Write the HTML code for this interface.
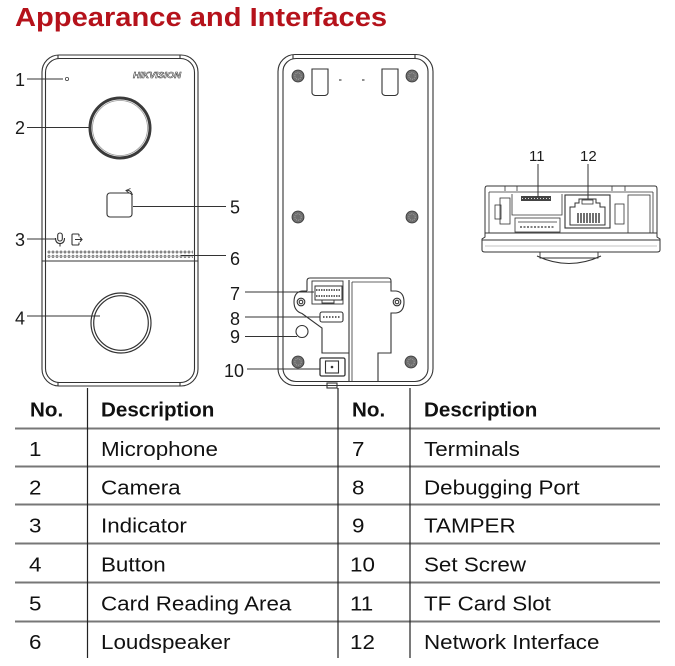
<!DOCTYPE html>
<html><head><meta charset="utf-8"><style>
html,body{margin:0;padding:0;background:#fff;}
svg{display:block;}
text{font-family:"Liberation Sans",Arial,sans-serif;}
</style></head><body>
<svg width="675" height="666" viewBox="0 0 675 666" xmlns="http://www.w3.org/2000/svg">
<defs>
<pattern id="dots" x="47" y="250" width="4" height="4.4" patternUnits="userSpaceOnUse"><circle cx="2" cy="2" r="1" fill="none" stroke="#555" stroke-width="0.8"/></pattern>
</defs>
<rect width="675" height="666" fill="#fff"/>

<!-- Title -->
<text transform="translate(15 26) scale(1.12 1)" font-size="26" font-weight="bold" fill="#b5121b">Appearance and Interfaces</text>

<!-- ===== FRONT DEVICE ===== -->
<g fill="none" stroke="#333" stroke-width="1.1">
<rect x="42" y="55" width="156" height="331" rx="17"/>
<rect x="45.5" y="58.5" width="149" height="324" rx="14"/>
<line x1="58" y1="55" x2="58" y2="58.5"/><line x1="180" y1="55" x2="180" y2="58.5"/>
<line x1="58" y1="382.5" x2="58" y2="386"/><line x1="180" y1="382.5" x2="180" y2="386"/>
<line x1="42" y1="261" x2="198" y2="261"/>
<!-- camera -->
<circle cx="120" cy="128" r="30" stroke="#3a3a3a" stroke-width="3"/>
<circle cx="120" cy="128" r="27.5" stroke="#999" stroke-width="0.8"/>
<!-- button -->
<circle cx="121" cy="323" r="30" stroke-width="1.2"/>
<circle cx="121" cy="323" r="27.3" stroke-width="1.2"/>
<!-- card area -->
<rect x="107" y="193" width="25" height="24" rx="3"/>
<path d="M126,190.5 Q131,189.5 132.5,195" stroke-width="1"/>
<path d="M130.5,188.5 L126,190.5 L129,193" stroke-width="0.9"/>
<!-- mic icon -->
<rect x="57.7" y="233" width="4.6" height="8" rx="2.3"/>
<path d="M55.5,238 Q55.5,243.5 60,243.5 Q64.5,243.5 64.5,238"/>
<line x1="60" y1="243.5" x2="60" y2="246.5"/>
<!-- exit icon -->
<path d="M79,236.5 L79,235 Q79,234 78,234 L73,234 Q72,234 72,235 L72,244 Q72,245 73,245 L78,245 Q79,245 79,244 L79,242.5"/>
<path d="M75,239.5 L82,239.5 M80,237.3 L82,239.5 L80,241.7"/>
</g>
<circle cx="67" cy="79" r="1.6" fill="none" stroke="#444" stroke-width="0.8"/>
<rect x="47" y="250" width="146" height="9" fill="url(#dots)"/>
<text x="133" y="78" font-size="8" font-weight="bold" font-style="italic" fill="#fff" stroke="#333" stroke-width="0.5" textLength="48" lengthAdjust="spacingAndGlyphs">HIKVISION</text>

<!-- front labels + leaders -->
<g stroke="#333" stroke-width="1">
<line x1="27" y1="79" x2="63" y2="79"/>
<line x1="27" y1="127.5" x2="89" y2="127.5"/>
<line x1="133" y1="206.5" x2="226" y2="206.5"/>
<line x1="27" y1="239" x2="56" y2="239"/>
<line x1="181" y1="255.5" x2="226" y2="255.5"/>
<line x1="27" y1="316" x2="100" y2="316"/>
</g>
<g font-size="18" fill="#1a1a1a">
<text x="15" y="86">1</text>
<text x="15" y="134">2</text>
<text x="15" y="246">3</text>
<text x="15" y="324.5">4</text>
<text x="230" y="213.5">5</text>
<text x="230" y="265">6</text>
</g>

<!-- ===== BACK DEVICE ===== -->
<g fill="none" stroke="#333" stroke-width="1.1">
<rect x="278" y="54.5" width="155" height="331" rx="17"/>
<rect x="283" y="58.5" width="145" height="323" rx="13"/>
<line x1="293" y1="54.5" x2="293" y2="58.5"/><line x1="415" y1="54.5" x2="415" y2="58.5"/>
<!-- top tabs -->
<path d="M312,69 L328,69 L328,93 Q327.5,95 325,95.5 L315,95.5 Q312.5,95 312,93 Z"/>
<path d="M382,69 L398,69 L398,93 Q397.5,95 395,95.5 L385,95.5 Q382.5,95 382,93 Z"/>
<line x1="339" y1="80" x2="341.5" y2="80"/>
<line x1="362" y1="80" x2="364.5" y2="80"/>
<!-- bracket -->
<path d="M307,291 L307,281 Q307,278 310,278 L388,278 Q391,278 391,281 L391,291 L396,291 Q404,292 404,302 Q404,312 396,313 L391,313 L391,353 L378,353 L378,382"/>
<path d="M307,291 L302,291 Q294,292 294,302 Q294,311 302,313.5 L322,328 L322,353 L349,353"/>
<line x1="349" y1="280" x2="349" y2="382"/>
<line x1="352" y1="282" x2="352" y2="382" stroke-width="0.8"/>
<line x1="352" y1="282" x2="391" y2="282" stroke-width="0.8"/>
<circle cx="301" cy="302" r="3.8"/><circle cx="301" cy="302" r="1.8"/>
<circle cx="397" cy="302" r="3.8"/><circle cx="397" cy="302" r="1.8"/>
<!-- terminals 7 -->
<rect x="312" y="281" width="31" height="23" stroke-width="0.9"/>
<rect x="315" y="286" width="27" height="14" stroke-width="1"/>
<line x1="316" y1="290" x2="341" y2="290" stroke-dasharray="1.5 1" stroke-width="1.6"/>
<line x1="316" y1="296" x2="341" y2="296" stroke-dasharray="1.5 1" stroke-width="1.6"/>
<path d="M322,300 L322,303 L334,303 L334,300" stroke-width="0.9"/>
<!-- debug 8 -->
<rect x="320" y="312" width="23" height="10" rx="2"/>
<line x1="323" y1="317" x2="340" y2="317" stroke-dasharray="1.5 1.5" stroke-width="1.4"/>
<!-- tamper 9 -->
<circle cx="302" cy="331.5" r="6"/>
<!-- set screw 10 -->
<rect x="320" y="358" width="25" height="18" rx="1.5" stroke-width="1.3"/>
<rect x="325.5" y="361" width="13" height="12"/>
<rect x="327" y="383" width="10" height="5"/>
</g>
<circle cx="332" cy="367" r="1.3" fill="#333"/>
<!-- screws -->
<g stroke="#333" stroke-width="0.8">
<circle cx="298" cy="76" r="6" fill="#6e6e6e"/><circle cx="298" cy="76" r="3.2" fill="none" stroke="#aaa" stroke-dasharray="1 1"/>
<circle cx="412" cy="76" r="6" fill="#6e6e6e"/><circle cx="412" cy="76" r="3.2" fill="none" stroke="#aaa" stroke-dasharray="1 1"/>
<circle cx="298" cy="217" r="6" fill="#6e6e6e"/><circle cx="298" cy="217" r="3.2" fill="none" stroke="#aaa" stroke-dasharray="1 1"/>
<circle cx="412" cy="217" r="6" fill="#6e6e6e"/><circle cx="412" cy="217" r="3.2" fill="none" stroke="#aaa" stroke-dasharray="1 1"/>
<circle cx="298" cy="362" r="6" fill="#6e6e6e"/><circle cx="298" cy="362" r="3.2" fill="none" stroke="#aaa" stroke-dasharray="1 1"/>
<circle cx="411" cy="362" r="6" fill="#6e6e6e"/><circle cx="411" cy="362" r="3.2" fill="none" stroke="#aaa" stroke-dasharray="1 1"/>
</g>
<g stroke="#333" stroke-width="1">
<line x1="245" y1="292" x2="314" y2="292"/>
<line x1="245" y1="317" x2="320" y2="317"/>
<line x1="245" y1="336.5" x2="297" y2="336.5"/>
<line x1="247" y1="369" x2="320" y2="369"/>
</g>
<g font-size="18" fill="#1a1a1a">
<text x="230" y="300">7</text>
<text x="230" y="325">8</text>
<text x="230" y="343">9</text>
<text x="224" y="377">10</text>
</g>

<!-- ===== RIGHT DEVICE ===== -->
<g fill="none" stroke="#333" stroke-width="1">
<path d="M487,186 L655,186 Q657,186 657,189 L657,237 L660,239 L660,250 Q660,252 657,252 L485,252 Q482,252 482,250 L482,239 L485,237 L485,189 Q485,186 487,186 Z"/>
<line x1="489" y1="192" x2="653" y2="192" stroke-width="0.8"/>
<line x1="489" y1="192" x2="489" y2="233" stroke-width="0.8"/>
<line x1="653" y1="192" x2="653" y2="233" stroke-width="0.8"/>
<line x1="485" y1="233" x2="657" y2="233"/>
<line x1="482" y1="240" x2="660" y2="240"/>
<line x1="485" y1="246" x2="657" y2="246" stroke-width="0.6" stroke="#888"/>
<!-- top bumps -->
<path d="M505,186 L505,191 M517,186 L517,191 M612,186 L612,191 M625,186 L625,191" stroke-width="0.8"/>
<!-- RJ45 -->
<rect x="565" y="195" width="45" height="33" stroke-width="1.1"/>
<path d="M570,225 L570,207 L575,207 L575,203 L579,203 L579,199 L596,199 L596,203 L600,203 L600,207 L605,207 L605,225 Z" stroke-width="1"/>
<rect x="582" y="200" width="11" height="4" stroke-width="0.8"/>
<!-- TF slot region -->
<path d="M512,194 L512,215 L562,215 L562,194" stroke-width="0.8"/>
<rect x="515" y="218" width="45" height="14" stroke-width="0.8"/>
<line x1="518" y1="222" x2="557" y2="222" stroke-width="0.7"/>
<line x1="520" y1="227" x2="555" y2="227" stroke-dasharray="2 1.5" stroke-width="1.2"/>
<!-- side components -->
<rect x="500" y="198" width="10" height="26" stroke-width="0.8"/>
<rect x="495" y="205" width="6" height="14" stroke-width="0.8"/>
<rect x="615" y="204" width="9" height="20" stroke-width="0.8"/>
<rect x="628" y="195" width="22" height="38" stroke-width="0.8"/>
<!-- bottom tab + arc -->
<path d="M540,252 L540,258 L598,258 L598,252" stroke-width="0.9"/>
<path d="M537,256 Q569,271 601,256" stroke-width="1"/>
</g>
<rect x="521" y="196" width="30" height="5" fill="#444"/>
<line x1="522" y1="198.5" x2="550" y2="198.5" stroke="#ddd" stroke-width="1" stroke-dasharray="1 2"/>
<g stroke="#222" stroke-width="1.3">
<line x1="578" y1="213" x2="578" y2="223"/><line x1="581" y1="213" x2="581" y2="223"/>
<line x1="584" y1="213" x2="584" y2="223"/><line x1="587" y1="213" x2="587" y2="223"/>
<line x1="590" y1="213" x2="590" y2="223"/><line x1="593" y1="213" x2="593" y2="223"/>
<line x1="596" y1="213" x2="596" y2="223"/><line x1="599" y1="213" x2="599" y2="223"/>
</g>
<g stroke="#333" stroke-width="1">
<line x1="538" y1="164" x2="538" y2="197"/>
<line x1="588" y1="164" x2="588" y2="199"/>
</g>
<g font-size="15" fill="#1a1a1a">
<text x="529" y="161">11</text>
<text x="580" y="161">12</text>
</g>

<!-- ===== TABLE ===== -->
<g stroke="#777" stroke-width="2">
<line x1="15" y1="428.5" x2="660" y2="428.5"/>
<line x1="15" y1="466.5" x2="660" y2="466.5"/>
<line x1="15" y1="504.5" x2="660" y2="504.5"/>
<line x1="15" y1="543.5" x2="660" y2="543.5"/>
<line x1="15" y1="582.5" x2="660" y2="582.5"/>
<line x1="15" y1="621.5" x2="660" y2="621.5"/>
</g>
<g stroke="#222" stroke-width="1.2">
<line x1="87.5" y1="388" x2="87.5" y2="658"/>
<line x1="338" y1="388" x2="338" y2="658"/>
<line x1="410" y1="388" x2="410" y2="658"/>
</g>
<g font-size="20" fill="#111">
<text transform="translate(30 416.5) scale(1.03 1)" font-weight="bold">No.</text>
<text transform="translate(101 416.5) scale(1.03 1)" font-weight="bold">Description</text>
<text transform="translate(352 416.5) scale(1.03 1)" font-weight="bold">No.</text>
<text transform="translate(424 416.5) scale(1.03 1)" font-weight="bold">Description</text>

<text transform="translate(29 456) scale(1.12 1)">1</text>
<text transform="translate(101 456) scale(1.12 1)">Microphone</text>
<text transform="translate(29 494.5) scale(1.12 1)">2</text>
<text transform="translate(101 494.5) scale(1.12 1)">Camera</text>
<text transform="translate(29 532.5) scale(1.12 1)">3</text>
<text transform="translate(101 532.5) scale(1.12 1)">Indicator</text>
<text transform="translate(29 571.5) scale(1.12 1)">4</text>
<text transform="translate(101 571.5) scale(1.12 1)">Button</text>
<text transform="translate(29 610.5) scale(1.12 1)">5</text>
<text transform="translate(101 610.5) scale(1.12 1)">Card Reading Area</text>
<text transform="translate(29 649) scale(1.12 1)">6</text>
<text transform="translate(101 649) scale(1.12 1)">Loudspeaker</text>

<text transform="translate(352 456) scale(1.12 1)">7</text>
<text transform="translate(424 456) scale(1.12 1)">Terminals</text>
<text transform="translate(352 494.5) scale(1.12 1)">8</text>
<text transform="translate(424 494.5) scale(1.12 1)">Debugging Port</text>
<text transform="translate(352 532.5) scale(1.12 1)">9</text>
<text transform="translate(424 532.5) scale(1.12 1)">TAMPER</text>
<text transform="translate(350 571.5) scale(1.12 1)">10</text>
<text transform="translate(424 571.5) scale(1.12 1)">Set Screw</text>
<text transform="translate(350 610.5) scale(1.12 1)">11</text>
<text transform="translate(424 610.5) scale(1.12 1)">TF Card Slot</text>
<text transform="translate(350 649) scale(1.12 1)">12</text>
<text transform="translate(424 649) scale(1.12 1)">Network Interface</text>
</g>
</svg>
</body></html>
